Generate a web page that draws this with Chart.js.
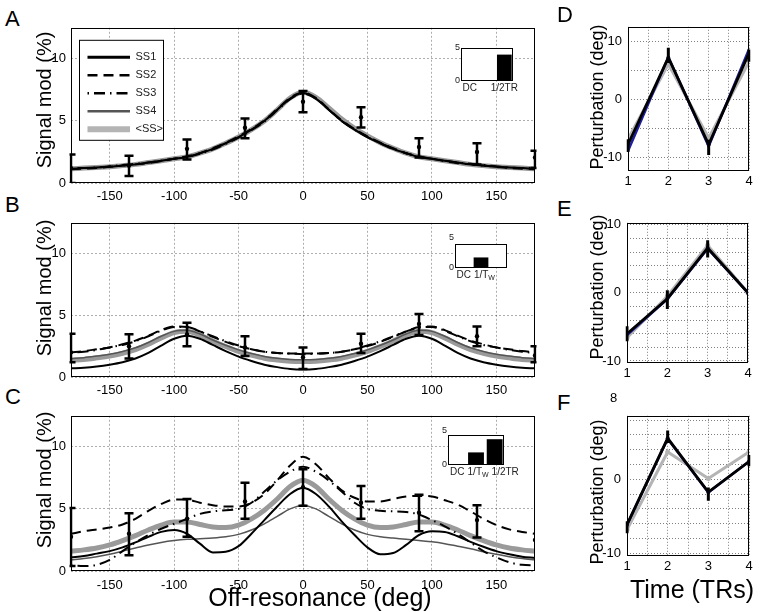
<!DOCTYPE html>
<html>
<head>
<meta charset="utf-8">
<script src="https://cdn.jsdelivr.net/npm/chart.js@4/dist/chart.umd.min.js"></script>
<style>
  html, body { margin: 0; padding: 0; background: #fff; }
  #fig { position: relative; width: 760px; height: 612px; overflow: hidden;
         font-family: "Liberation Sans", Arial, sans-serif; color: #000; }
  #fig canvas { position: absolute; }
  .t { position: absolute; white-space: nowrap; line-height: 1; }
  .v { transform: translate(-50%, -50%) rotate(-90deg); }
  .h { transform: translateX(-50%); }
</style>
</head>
<body>
<div id="fig">
  <canvas id="cA"></canvas><canvas id="cB"></canvas><canvas id="cC"></canvas>
  <canvas id="cD"></canvas><canvas id="cE"></canvas><canvas id="cF"></canvas>
  <canvas id="iA"></canvas><canvas id="iB"></canvas><canvas id="iC"></canvas>

  <div class="t" style="left:5px;top:8px;font-size:22px">A</div>
  <div class="t" style="left:5px;top:194px;font-size:22px">B</div>
  <div class="t" style="left:5px;top:386px;font-size:22px">C</div>
  <div class="t" style="left:557px;top:4px;font-size:22px">D</div>
  <div class="t" style="left:557px;top:198px;font-size:22px">E</div>
  <div class="t" style="left:557px;top:392px;font-size:22px">F</div>

  <div class="t v" style="left:44px;top:100px;font-size:20px">Signal mod (%)</div>
  <div class="t v" style="left:44px;top:288px;font-size:20px">Signal mod (%)</div>
  <div class="t v" style="left:44px;top:480px;font-size:20px">Signal mod (%)</div>
  <div class="t v" style="left:597px;top:97px;font-size:18px">Perturbation (deg)</div>
  <div class="t v" style="left:597px;top:287px;font-size:18px">Perturbation (deg)</div>
  <div class="t v" style="left:597px;top:492px;font-size:18px">Perturbation (deg)</div>
  <div class="t h" style="left:320px;top:585px;font-size:25px">Off-resonance (deg)</div>
  <div class="t h" style="left:692px;top:577px;font-size:25px">Time (TRs)</div>
  <div class="t" style="left:610px;top:391px;font-size:13px">8</div>
</div>
<script>
(function () {
  "use strict";

  // ---- datos ----
  const offRes = [-180,-170,-160,-150,-140,-130,-120,-110,-100,-90,-80,-70,-60,-50,-40,-30,-20,-10,0,
                  10,20,30,40,50,60,70,80,90,100,110,120,130,140,150,160,170,180];
  const errX = [-180,-135,-90,-45,0,45,90,135,180];
  const xTicksMain = [-150,-100,-50,0,50,100,150];
  const yTicksMain = [0,5,10];
  const seriesNames = ["SS1","SS2","SS3","SS4","<SS>"];

  // Panel A
  const aSS1 = [1.15,1.2,1.25,1.3,1.4,1.5,1.65,1.8,1.95,2.1,2.4,2.75,3.2,3.7,4.3,5.0,5.9,6.8,7.25,6.8,5.9,5.0,4.3,3.7,3.2,2.75,2.4,2.1,1.95,1.8,1.65,1.5,1.4,1.3,1.25,1.2,1.15];
  const aSS2 = [1.1,1.15,1.2,1.3,1.4,1.5,1.6,1.75,1.95,2.15,2.4,2.8,3.25,3.75,4.35,5.05,5.95,6.85,7.3,6.85,5.95,5.05,4.35,3.75,3.25,2.8,2.4,2.15,1.95,1.75,1.6,1.5,1.4,1.3,1.2,1.15,1.1];
  const aSS3 = [1.2,1.2,1.25,1.35,1.45,1.55,1.65,1.8,1.95,2.1,2.35,2.7,3.15,3.65,4.25,4.95,5.85,6.75,7.2,6.8,5.9,5.0,4.3,3.7,3.2,2.75,2.4,2.1,1.95,1.8,1.65,1.55,1.45,1.35,1.25,1.2,1.2];
  const aSS4 = [1.15,1.2,1.25,1.3,1.4,1.5,1.65,1.8,1.95,2.1,2.4,2.75,3.2,3.7,4.3,5.0,5.9,6.8,7.2,6.8,5.9,5.0,4.3,3.7,3.2,2.75,2.4,2.1,1.95,1.8,1.65,1.5,1.4,1.3,1.25,1.2,1.15];
  const aMean = [1.15,1.2,1.25,1.3,1.4,1.5,1.65,1.8,1.95,2.1,2.4,2.75,3.2,3.7,4.3,5.0,5.9,6.85,7.3,6.9,6.05,5.15,4.4,3.8,3.25,2.8,2.4,2.1,1.95,1.8,1.65,1.5,1.4,1.3,1.25,1.2,1.15];
  const aErrMean = [1.2,1.4,2.75,4.45,6.55,5.3,2.9,2.5,2.05];
  const aErrLo = [0,0.57,1.9,3.6,5.7,4.47,2.05,1.5,1.2];
  const aErrHi = [2.3,2.2,3.5,5.2,7.4,6.1,3.6,3.2,2.6];

  // Panel B
  const bSS1 = [0.7,0.75,0.85,1.0,1.2,1.5,1.95,2.55,3.1,3.35,3.1,2.6,2.1,1.65,1.3,1.0,0.8,0.65,0.6,0.65,0.8,1.0,1.3,1.65,2.1,2.6,3.1,3.35,3.1,2.55,1.95,1.5,1.2,1.0,0.85,0.75,0.7];
  const bSS2 = [2.0,2.1,2.25,2.4,2.65,2.95,3.35,3.8,4.1,4.05,3.7,3.25,2.85,2.5,2.25,2.05,1.95,1.9,1.9,1.9,1.95,2.05,2.25,2.5,2.85,3.25,3.7,4.05,4.1,3.8,3.35,2.95,2.65,2.4,2.25,2.1,2.0];
  const bSS3 = [1.95,2.05,2.2,2.4,2.6,2.9,3.3,3.75,4.05,4.05,3.7,3.3,2.9,2.55,2.25,2.05,1.95,1.9,1.85,1.9,1.95,2.05,2.25,2.55,2.9,3.3,3.7,4.0,4.05,3.75,3.3,2.9,2.6,2.4,2.2,2.05,1.95];
  const bSS4 = [1.5,1.57,1.7,1.85,2.07,2.37,2.8,3.3,3.7,3.78,3.48,3.0,2.57,2.2,1.9,1.67,1.52,1.42,1.4,1.42,1.52,1.67,1.9,2.2,2.57,3.0,3.48,3.78,3.7,3.3,2.8,2.37,2.07,1.85,1.7,1.57,1.5];
  const bMean = [1.35,1.42,1.55,1.7,1.92,2.22,2.65,3.17,3.6,3.7,3.4,2.92,2.47,2.07,1.77,1.52,1.37,1.27,1.25,1.27,1.37,1.52,1.77,2.07,2.47,2.92,3.4,3.7,3.6,3.17,2.65,2.22,1.92,1.7,1.55,1.42,1.35];
  const bErrMean = [2.0,2.5,3.45,2.4,1.6,2.7,4.3,3.3,1.75];
  const bErrLo = [1.2,1.5,2.5,1.7,0.65,1.95,3.4,2.5,1.2];
  const bErrHi = [3.5,3.46,4.4,3.3,2.4,3.5,5.1,4.1,2.5];

  // Panel C
  const cSS1 = [1.1,1.2,1.4,1.6,1.9,2.3,2.75,3.15,3.3,3.0,2.2,1.5,1.55,2.0,3.0,4.1,5.2,6.2,6.7,6.2,5.2,4.0,2.9,1.9,1.35,1.45,2.1,2.9,3.2,3.15,2.8,2.35,1.95,1.6,1.35,1.15,1.05];
  const cSS2 = [3.0,3.2,3.35,3.5,3.75,4.2,4.85,5.4,5.75,5.75,5.5,5.3,5.2,5.2,5.5,6.2,7.3,8.5,9.2,8.6,7.5,6.5,5.9,5.6,5.6,5.8,6.0,6.05,6.0,5.7,5.35,4.8,4.2,3.7,3.35,3.15,3.0];
  const cSS3 = [0.45,0.4,0.5,0.9,1.6,2.3,2.9,3.4,3.8,4.2,4.6,4.8,4.9,5.0,5.5,6.4,7.3,8.0,8.4,8.0,7.3,6.4,5.5,5.0,4.85,4.8,4.75,4.55,4.1,3.6,3.0,2.3,1.6,1.1,0.7,0.5,0.45];
  const cSS4 = [0.9,1.0,1.15,1.35,1.6,1.85,2.1,2.3,2.45,2.55,2.6,2.65,2.75,2.95,3.3,3.8,4.4,5.0,5.3,5.0,4.4,3.8,3.3,2.95,2.75,2.65,2.55,2.45,2.35,2.2,2.0,1.8,1.55,1.35,1.15,1.0,0.9];
  const cMean = [1.6,1.7,1.85,2.1,2.45,2.85,3.3,3.7,3.95,3.95,3.75,3.55,3.5,3.7,4.2,4.9,5.8,6.8,7.3,6.8,5.8,4.9,4.2,3.7,3.5,3.55,3.75,3.95,3.95,3.7,3.3,2.85,2.45,2.1,1.85,1.7,1.6];
  const cErrMean = [2.76,3.0,4.2,5.6,6.75,5.5,4.7,4.1,2.5];
  const cErrLo = [0.4,1.27,2.75,4.2,5.25,4.2,3.2,2.7,2.5];
  const cErrHi = [5.07,4.65,5.8,7.1,8.2,6.85,6.15,5.3,2.5];

  // Insets (espectro)
  const insetCats = ["DC","1/Tw","1/2TR"];
  const insetTicks = [0,5];
  const insetA = [0,0,4.0], insetLabA = ["DC","","1/2TR"];
  const insetB = [0,2.2,0], insetLabB = ["DC","1/Tw",""];
  const insetC = [0,2.1,4.3], insetLabC = ["DC","1/Tw","1/2TR"];

  // Paneles D-F (perturbación por TR)
  const trTime = [1,2,3,4];
  const trGridX = [1,1.5,2,2.5,3,3.5,4];
  const dBlack = [-7.7,7.2,-7.7,8.0], dBlue = [-8.8,7.3,-8.0,8.65], dGray = [-6.8,6.1,-6.6,6.5];
  const dErrLo = [-9.0,6.3,-9.5,6.5], dErrHi = [-6.8,8.9,-6.9,8.6];
  const eBlack = [-6.0,-0.85,6.6,0], eBlue = [-6.2,-0.9,6.5,0], eGray = [-6.6,-0.5,7.0,0];
  const eErrLo = [-7.1,-2.35,5.2,0], eErrHi = [-4.9,0.4,7.75,0];
  const fBlack = [-6.15,5.55,-1.73,2.4], fBlue = [-6.2,5.5,-1.8,2.4], fGray = [-6.8,3.7,0.1,3.7];
  const fErrLo = [-7.3,4.9,-2.9,1.75], fErrHi = [-5.7,6.6,-1.1,3.3];
  const dGridY = [-10,-5,0,5,10], eGridY = [-10,-8,-6,-4,-2,0,2,4,6,8,10], fGridY = [-10,-8,-6,-4,-2,0,2,4,6,8];
  const trLabY = [-10,0,10];

  // ---- estilos ----
  const FONT = '"Liberation Sans", Arial, sans-serif';
  const STY = [
    { color: "#000", width: 2, dash: [] },
    { color: "#000", width: 2, dash: [10, 6] },
    { color: "#000", width: 2, dash: [1.5, 5, 11, 5] },
    { color: "#555", width: 1.5, dash: [] },
    { color: "#9a9a9a", width: 5, dash: [] },
  ];
  const LEG_W = [3, 2.5, 2.5, 2.5, 6];
  const LEG_C = ["#000", "#000", "#000", "#555", "#b4b4b4"];

  Chart.defaults.font.family = FONT;
  Chart.defaults.color = "#000";

  // Marco, barras de error, leyenda y etiquetas del inserto.
  Chart.register({
    id: "fig",
    beforeDraw(chart, args, o) {
      if (!o.fill) return;
      const a = chart.chartArea, ctx = chart.ctx;
      ctx.save(); ctx.fillStyle = "#fff"; ctx.fillRect(a.left, a.top, a.width, a.height); ctx.restore();
    },
    afterDatasetsDraw(chart, args, o) {
      const e = o.err;
      if (!e) return;
      const { ctx, chartArea: a } = chart, x = chart.scales.x, y = chart.scales.y;
      ctx.save();
      ctx.beginPath(); ctx.rect(a.left - 1.5, a.top, a.width + 3, a.height); ctx.clip();
      ctx.strokeStyle = "#000"; ctx.lineWidth = e.w; ctx.setLineDash([]);
      e.x.forEach((xv, i) => {
        const px = x.getPixelForValue(xv), p1 = y.getPixelForValue(e.lo[i]), p2 = y.getPixelForValue(e.hi[i]);
        if (Math.abs(p1 - p2) < 0.5) return;
        ctx.beginPath(); ctx.moveTo(px, p1); ctx.lineTo(px, p2);
        if (e.cap) {
          ctx.moveTo(px - e.cap, p1); ctx.lineTo(px + e.cap, p1);
          ctx.moveTo(px - e.cap, p2); ctx.lineTo(px + e.cap, p2);
        }
        ctx.stroke();
      });
      ctx.restore();
    },
    afterDraw(chart, args, o) {
      const { ctx, chartArea: a } = chart;
      ctx.save();
      if (o.frame) {
        ctx.strokeStyle = o.frame; ctx.lineWidth = 1; ctx.setLineDash([]);
        ctx.strokeRect(Math.round(a.left) + 0.5, Math.round(a.top) + 0.5, Math.round(a.width) - 1, Math.round(a.height) - 1);
      }
      if (o.legend) {
        const g = o.legend, x0 = a.left + g.x, y0 = a.top + g.y;
        ctx.fillStyle = "#fff"; ctx.fillRect(x0, y0, g.w, g.h);
        ctx.strokeStyle = "#000"; ctx.lineWidth = 1; ctx.strokeRect(x0 + 0.5, y0 + 0.5, g.w, g.h);
        const items = chart.data.datasets.filter((d) => seriesNames.includes(d.label));
        items.forEach((d, i) => {
          const yy = y0 + g.first + i * g.step;
          ctx.beginPath(); ctx.setLineDash(d.borderDash || []);
          ctx.strokeStyle = LEG_C[i]; ctx.lineWidth = LEG_W[i];
          ctx.moveTo(x0 + g.l1, yy); ctx.lineTo(x0 + g.l2, yy); ctx.stroke();
          ctx.setLineDash([]); ctx.fillStyle = "#222"; ctx.font = "11px " + FONT;
          ctx.textBaseline = "middle"; ctx.textAlign = "left";
          ctx.fillText(d.label, x0 + g.tx, yy);
        });
      }
      if (o.ylab) {
        // etiquetas 0 / 5 del inserto, colocadas con la escala y
        const y = chart.scales.y;
        ctx.fillStyle = "#222"; ctx.font = "9px " + FONT; ctx.textAlign = "right"; ctx.textBaseline = "middle";
        o.ylab.forEach((v, i) => {
          const dy = i === o.ylab.length - 1 ? o.topShift : 0;
          ctx.fillText(String(v), a.left - 1, y.getPixelForValue(v) + dy);
        });
      }
      if (o.cats) {
        const x = chart.scales.x;
        ctx.fillStyle = "#222"; ctx.textBaseline = "top"; ctx.textAlign = "left";
        let prevEnd = -1e9;
        o.cats.forEach((s, i) => {
          if (!s) return;
          let main = s, sub = "";
          if (s.endsWith("w")) { main = s.slice(0, -1); sub = "W"; }
          ctx.font = "10px " + FONT; const w1 = ctx.measureText(main).width;
          ctx.font = "7px " + FONT; const w2 = sub ? ctx.measureText(sub).width : 0;
          const x0 = Math.max(x.getPixelForValue(i) - (w1 + w2) / 2, prevEnd + 3), ty = a.bottom + 2;
          ctx.font = "10px " + FONT; ctx.fillText(main, x0, ty);
          if (sub) { ctx.font = "7px " + FONT; ctx.fillText(sub, x0 + w1, ty + 5); }
          prevEnd = x0 + w1 + w2;
        });
      }
      ctx.restore();
    },
  });

  function place(id, l, t, w, h) {
    const c = document.getElementById(id);
    c.width = w; c.height = h; c.style.left = l + "px"; c.style.top = t + "px";
    return c;
  }
  const ticksAt = (arr) => (s) => { s.ticks = arr.map((v) => ({ value: v })); };

  // ---- paneles A-C ----
  function mainChart(id, plot, series, mean, lo, hi, xpad, legend) {
    const L = 46, T = 10, R = 10, B = 30;
    const cv = place(id, plot.l - L, plot.t - T, L + plot.w + R, T + plot.h + B);
    const ds = [{
      label: "mean", data: errX.map((x, k) => ({ x, y: mean[k] })), showLine: false,
      pointRadius: 2.2, pointBackgroundColor: "#000", pointBorderWidth: 0, order: 0,
    }];
    series.forEach((arr, i) => ds.push({
      label: seriesNames[i], data: offRes.map((x, k) => ({ x, y: arr[k] })),
      borderColor: STY[i].color, borderWidth: STY[i].width, borderDash: STY[i].dash,
      pointRadius: 0, cubicInterpolationMode: "monotone", fill: false, order: i + 1,
    }));
    const grid = { color: "rgba(0,0,0,0.32)", drawTicks: false };
    const border = { display: false, dash: [2, 2] };
    return new Chart(cv, {
      type: "line",
      data: { datasets: ds },
      options: {
        responsive: false, animation: false, devicePixelRatio: 1, events: [],
        layout: { padding: { top: T, right: R, left: 0, bottom: 0 } },
        scales: {
          x: { type: "linear", min: -180, max: 180, afterBuildTicks: ticksAt(xTicksMain),
               afterFit: (s) => { s.height = B; }, grid, border,
               ticks: { padding: xpad, font: { size: 13 }, color: "#000", maxRotation: 0, autoSkip: false, callback: (v) => String(v) } },
          y: { type: "linear", min: 0, max: 12.5, afterBuildTicks: ticksAt(yTicksMain),
               afterFit: (s) => { s.width = L; }, grid, border,
               ticks: { padding: 5, font: { size: 13 }, color: "#000", callback: (v) => String(v) } },
        },
        plugins: {
          legend: { display: false }, tooltip: { enabled: false },
          fig: { frame: "#000", err: { x: errX, lo, hi, w: 2.5, cap: 4.5 }, legend },
        },
      },
    });
  }

  // ---- paneles D-F ----
  function trChart(id, plot, yMin, yMax, gridY, blk, blu, gry, lo, hi) {
    const L = 40, T = 8, R = 8, B = 22;
    const cv = place(id, plot.l - L, plot.t - T, L + plot.w + R, T + plot.h + B);
    const pts = (arr) => trTime.map((x, k) => ({ x, y: arr[k] }));
    const grid = { color: "rgba(0,0,0,0.5)", drawTicks: false };
    const border = { display: false, dash: [1, 2] };
    return new Chart(cv, {
      type: "line",
      data: { datasets: [
        { label: "black", data: pts(blk), borderColor: "#000", borderWidth: 2.8, pointRadius: 2, pointBackgroundColor: "#101040", pointBorderWidth: 0, order: 0 },
        { label: "blue", data: pts(blu), borderColor: "#1f1fa0", borderWidth: 2.5, pointRadius: 0, order: 1 },
        { label: "gray", data: pts(gry), borderColor: "#b4b4b4", borderWidth: 3, pointRadius: 2.5, pointBackgroundColor: "#b4b4b4", pointBorderWidth: 0, order: 2 },
      ] },
      options: {
        responsive: false, animation: false, devicePixelRatio: 1, events: [],
        layout: { padding: { top: T, right: R, left: 0, bottom: 0 } },
        scales: {
          x: { type: "linear", min: 1, max: 4, afterBuildTicks: ticksAt(trGridX),
               afterFit: (s) => { s.height = B; }, grid, border,
               ticks: { padding: 3, font: { size: 13 }, color: "#000", maxRotation: 0, autoSkip: false,
                        callback: (v) => (Number.isInteger(v) ? String(v) : "") } },
          y: { type: "linear", min: yMin, max: yMax, afterBuildTicks: ticksAt(gridY),
               afterFit: (s) => { s.width = L; }, grid, border,
               ticks: { padding: 6, font: { size: 13 }, color: "#000", autoSkip: false,
                        callback: (v) => (trLabY.includes(v) ? String(v) : "") } },
        },
        plugins: {
          legend: { display: false }, tooltip: { enabled: false },
          fig: { frame: "#000", err: { x: trTime, lo, hi, w: 3, cap: 0 } },
        },
      },
    });
  }

  // ---- insertos ----
  function insetChart(id, plot, vals, labs, topShift) {
    const L = 14, T = 12, R = 24, B = 18;
    const cv = place(id, plot.l - L, plot.t - T, L + plot.w + R, T + plot.h + B);
    return new Chart(cv, {
      type: "bar",
      data: { labels: insetCats, datasets: [{ data: vals, backgroundColor: "#000", barPercentage: 0.85, categoryPercentage: 1 }] },
      options: {
        responsive: false, animation: false, devicePixelRatio: 1, events: [],
        layout: { padding: { top: T, right: R, left: 0, bottom: 0 } },
        scales: {
          x: { grid: { display: false }, border: { display: false }, ticks: { display: false },
               afterFit: (s) => { s.height = B; } },
          y: { min: 0, max: 5, afterBuildTicks: ticksAt(insetTicks), grid: { display: false }, border: { display: false },
               ticks: { display: false }, afterFit: (s) => { s.width = L; } },
        },
        plugins: { legend: { display: false }, tooltip: { enabled: false },
                   fig: { fill: true, frame: "#000", cats: labs, ylab: insetTicks, topShift } },
      },
    });
  }

  const legendA = { x: 8, y: 12, w: 84, h: 100, first: 17.5, step: 18, l1: 8.5, l2: 51, tx: 56.5 };
  mainChart("cA", { l: 71, t: 25, w: 464, h: 158 }, [aSS1, aSS2, aSS3, aSS4, aMean], aErrMean, aErrLo, aErrHi, 6, legendA);
  mainChart("cB", { l: 71, t: 220, w: 464, h: 157 }, [bSS1, bSS2, bSS3, bSS4, bMean], bErrMean, bErrLo, bErrHi, 6, null);
  mainChart("cC", { l: 71, t: 413, w: 464, h: 158 }, [cSS1, cSS2, cSS3, cSS4, cMean], cErrMean, cErrLo, cErrHi, 7, null);

  trChart("cD", { l: 628, t: 21, w: 121, h: 150 }, -12.25, 12.5, dGridY, dBlack, dBlue, dGray, dErrLo, dErrHi);
  trChart("cE", { l: 627, t: 217, w: 121, h: 146 }, -10.3, 10.3, eGridY, eBlack, eBlue, eGray, eErrLo, eErrHi);
  trChart("cF", { l: 627, t: 410, w: 122, h: 146 }, -10.4, 8.6, fGridY, fBlack, fBlue, fGray, fErrLo, fErrHi);

  insetChart("iA", { l: 461, t: 48, w: 52, h: 33 }, insetA, insetLabA, 0);
  insetChart("iB", { l: 455, t: 244, w: 52, h: 24 }, insetB, insetLabB, -6);
  insetChart("iC", { l: 448, t: 435, w: 56, h: 30 }, insetC, insetLabC, -4);
})();
</script>
</body>
</html>
